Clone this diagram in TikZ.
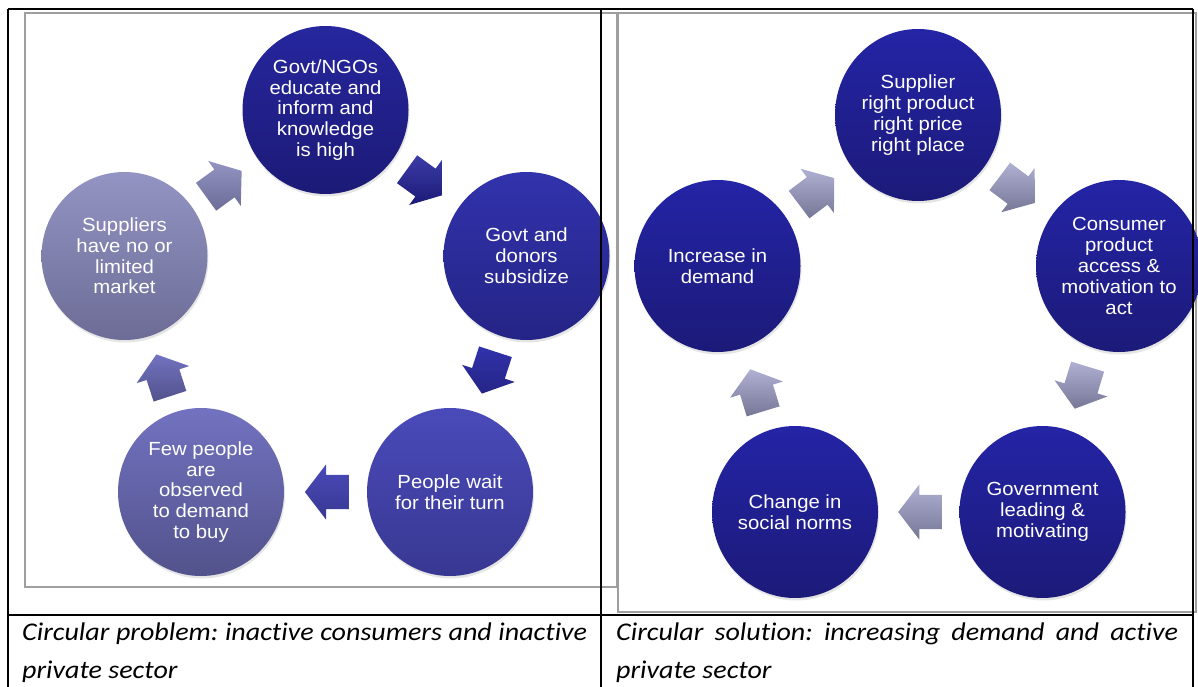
\documentclass[tikz,border=0pt]{standalone}
\usepackage{fontspec}
\newfontfamily\bubfont[FakeStretch=1.07]{Liberation Sans}
\newfontfamily\capfont[FakeStretch=1.1,Ligatures=NoCommon]{Carlito}
\usepackage{xcolor}
\usetikzlibrary{shapes.geometric}
\usetikzlibrary{shapes.arrows}
\usetikzlibrary{shadows}
\usetikzlibrary{calc}
\hyphenpenalty=10000
\frenchspacing

\definecolor{supT}{RGB}{148,148,196}
\definecolor{supB}{RGB}{108,108,150}
\definecolor{govT}{RGB}{38,38,158}
\definecolor{govB}{RGB}{28,26,118}
\definecolor{subT}{RGB}{50,50,172}
\definecolor{subB}{RGB}{36,36,134}
\definecolor{waitT}{RGB}{74,74,186}
\definecolor{waitB}{RGB}{56,56,146}
\definecolor{fewT}{RGB}{114,114,192}
\definecolor{fewB}{RGB}{82,82,140}
\definecolor{solT}{RGB}{36,36,166}
\definecolor{solB}{RGB}{28,26,120}
\definecolor{grT}{RGB}{176,176,212}
\definecolor{grB}{RGB}{118,118,150}

\begin{document}
\begin{tikzpicture}[
  x=1pt, y=-1pt,
  bub/.style={ellipse, inner sep=0pt, minimum width=166pt, minimum height=168pt,
    align=center, text=white, font=\bubfont\fontsize{19}{20.8}\selectfont,
    drop shadow={opacity=0.2, shadow xshift=1pt, shadow yshift=-2.5pt}},
  blk/.style={single arrow, inner xsep=0pt, inner ysep=17pt, minimum height=44pt,
    single arrow head extend=10.5pt, single arrow tip angle=105},
  rule/.style={line width=1.8pt},
  frm/.style={draw=gray!75, line width=2.2pt},
  captxt/.style={anchor=north west, inner sep=0pt, align=justify,
    font=\capfont\itshape\fontsize{25.5}{38}\selectfont},
]

\useasboundingbox (0,0) rectangle (1198,687);
\path [fill=white] (0,0) rectangle (1198,687);

\draw [frm] (25,13) rectangle (617,587);
\draw [frm] (618,13) rectangle (1196,612);

\node [bub, top color=supT, bottom color=supB] (sup) at (124.5,256) {Suppliers\\have no or\\limited\\market};
\node [bub, top color=govT, bottom color=govB] (gov) at (325.5,110) {Govt/NGOs\\educate and\\inform and\\knowledge\\is high};
\node [bub, top color=subT, bottom color=subB] (sub) at (526.5,256) {Govt and\\donors\\subsidize};
\node [bub, top color=waitT, bottom color=waitB] (wait) at (450,492) {People wait\\for their turn};
\node [bub, top color=fewT, bottom color=fewB] (few) at (201,492) {Few people\\are\\observed\\to demand\\to buy};

\node [blk, top color=supT, bottom color=supB, rotate=36] (p1) at ($(sup)!0.5!(gov)!8pt!(sup)$) {};
\node [blk, top color=govT!90!white, bottom color=govB, rotate=-36] (p2) at ($(gov)!0.5!(sub)!8pt!(gov)$) {};
\node [blk, top color=subT, bottom color=subB, rotate=-108] (p3) at ($(sub)!0.5!(wait)!8pt!(sub)$) {};
\node [blk, top color=waitT, bottom color=waitB, rotate=180] (p4) at ($(wait)!0.5!(few)!8pt!(wait)$) {};
\node [blk, top color=fewT, bottom color=fewB, rotate=108] (p5) at ($(few)!0.5!(sup)!8pt!(few)$) {};

\node [bub, minimum height=172pt, top color=solT, bottom color=solB] (inc) at (717.5,266) {Increase in\\demand};
\node [bub, minimum height=172pt, top color=solT, bottom color=solB] (rpr) at (918,115) {Supplier\\right product\\right price\\right place};
\node [bub, minimum height=172pt, top color=solT, bottom color=solB] (acc) at (1119,266) {Consumer\\product\\access \&\\motivation to\\act};
\node [bub, minimum height=172pt, top color=solT, bottom color=solB] (lead) at (1042.5,512) {Government\\leading \&\\motivating};
\node [bub, minimum height=172pt, top color=solT, bottom color=solB] (norm) at (795,512) {Change in\\social norms};

\node [blk, top color=grT, bottom color=grB, rotate=37] (s1) at ($(inc)!0.5!(rpr)!8pt!(inc)$) {};
\node [blk, top color=grT, bottom color=grB, rotate=-37] (s2) at ($(rpr)!0.5!(acc)!8pt!(rpr)$) {};
\node [blk, top color=grT, bottom color=grB, rotate=-107] (s3) at ($(acc)!0.5!(lead)!8pt!(acc)$) {};
\node [blk, top color=grT, bottom color=grB, rotate=180] (s4) at ($(lead)!0.5!(norm)!8pt!(lead)$) {};
\node [blk, top color=grT, bottom color=grB, rotate=107] (s5) at ($(norm)!0.5!(inc)!8pt!(norm)$) {};

\draw [rule] (8,9) -- (1193,9);
\draw [rule] (8,615) -- (1193,615);
\draw [rule] (8,9) -- (8,687);
\draw [rule] (601,9) -- (601,687);
\draw [rule] (1193,9) -- (1193,687);

\node [captxt, text width=565pt] (lcap) at (22,623) {Circular problem: inactive consumers and inactive private sector};
\node [captxt, text width=562pt] (rcap) at (616,623) {Circular solution: increasing demand and active private sector};

\end{tikzpicture}
\end{document}
